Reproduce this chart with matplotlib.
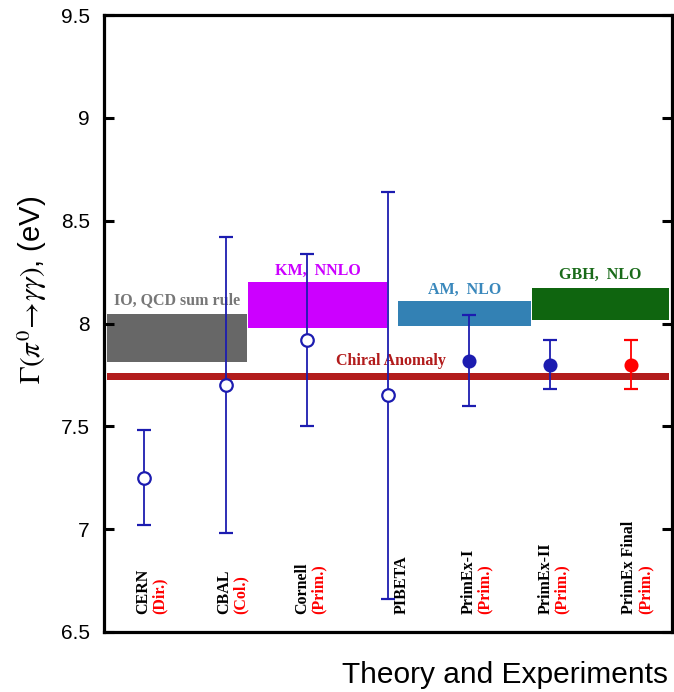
#!/usr/bin/env python3
"""
Pi0 -> gamma gamma decay width: theory bands and experimental results.
"""

import matplotlib.pyplot as plt
import numpy as np

# Experimental results (eV)
exp_names = ["CERN", "CBAL", "Cornell", "PIBETA", "PrimEx-I", "PrimEx-II", "PrimEx Final"]
exp_methods = ["(Dir.)", "(Col.)", "(Prim.)", "", "(Prim.)", "(Prim.)", "(Prim.)"]
exp_width = [7.25, 7.70, 7.92, 7.65, 7.82, 7.80, 7.80]
exp_error = [0.23, 0.72, 0.42, 0.99, 0.22, 0.12, 0.12]

# Theory predictions (eV): central value and half-width of band
theory_names = ["IO, QCD sum rule", "KM,  NNLO", "AM,  NLO", "GBH,  NLO"]
theory_value = [7.93, 8.09, 8.05, 8.095]
theory_error = [0.115, 0.11, 0.06, 0.08]

chiral_value = 7.742
chiral_error = 0.017

# ---- layout / styles ----
plt.rcParams["mathtext.fontset"] = "stix"
serif = "Liberation Serif"
sans = "Liberation Sans"

fig = plt.figure(figsize=(6.74, 6.92), dpi=100)
ax = fig.add_axes([0.154, 0.087, 0.843, 0.891])

xpos = np.arange(1, len(exp_names) + 1)

# theory boxes (x extents in axis units)
box_x = [(0.545, 2.27), (2.28, 3.99), (4.12, 5.76), (5.78, 7.46)]
box_colors = ["#676767", "#CC00FF", "#3381B4", "#0F650F"]
text_colors = ["#777777", "#CC00FF", "#3A88BC", "#1A6B1A"]
text_y = [8.115, 8.255, 8.165, 8.237]

for (x0, x1), v, e, c in zip(box_x, theory_value, theory_error, box_colors):
    ax.fill_between([x0, x1], v - e, v + e, color=c, lw=0, zorder=1)
for (x0, x1), name, c, ty in zip(box_x, theory_names, text_colors, text_y):
    ax.text((x0 + x1) / 2, ty, name, color=c, ha="center", va="center",
            family=serif, fontweight="bold", fontsize=11.5, zorder=2)

# chiral anomaly band
ax.fill_between([0.545, 7.46], chiral_value - chiral_error, chiral_value + chiral_error,
                color="#B21C1C", lw=0, zorder=1)
ax.text(4.04, 7.818, "Chiral Anomaly", color="#B21C1C", ha="center", va="center",
        family=serif, fontweight="bold", fontsize=11.5, zorder=2)

# experimental points
navy = "#1C1CB0"
styles = ["open", "open", "open", "open", "navy", "navy", "red"]
for x, y, e, s in zip(xpos, exp_width, exp_error, styles):
    col = "#FF0000" if s == "red" else navy
    face = "white" if s == "open" else col
    ms = 9 if s == "open" else 8.5
    ax.errorbar(x, y, yerr=e, fmt="o", color=col, ecolor=col, mfc=face, mec=col,
                ms=ms, mew=1.6, elinewidth=1.3, capsize=5, capthick=1.3, zorder=5)

# rotated experiment labels
name_dx = [-0.01, -0.01, -0.05, 0.17, -0.01, -0.06, -0.03]
for x, name, meth, dx in zip(xpos, exp_names, exp_methods, name_dx):
    ax.text(x + dx, 6.585, name, rotation=90, ha="center", va="bottom",
            family=serif, fontweight="bold", fontsize=11.5, color="black", zorder=3)
    if meth:
        ax.text(x + dx + 0.2, 6.585, meth, rotation=90, ha="center", va="bottom",
                family=serif, fontweight="bold", fontsize=11.5, color="#FF0000", zorder=3)

ax.set_xlim(0.5, 7.5)
ax.set_ylim(6.5, 9.5)
yt = [6.5, 7, 7.5, 8, 8.5, 9, 9.5]
ax.set_yticks(yt)
ax.set_yticklabels([f"{t:g}" for t in yt], family=sans, fontsize=15)
ax.set_xticks([])
ax.tick_params(axis="y", direction="in", length=7, width=2.2, left=True, right=True, pad=10)
for sp in ax.spines.values():
    sp.set_linewidth(2.3)

fig.text(0.047, 0.581, r"$\Gamma(\pi^0\!\rightarrow\!\gamma\gamma)$, (eV)", rotation=90,
         ha="center", va="center", family=sans, fontsize=21)
fig.text(0.991, 0.025, "Theory and Experiments", ha="right", va="center",
         family=sans, fontsize=21.5)

fig.savefig("out.png", dpi=100, facecolor="white")
